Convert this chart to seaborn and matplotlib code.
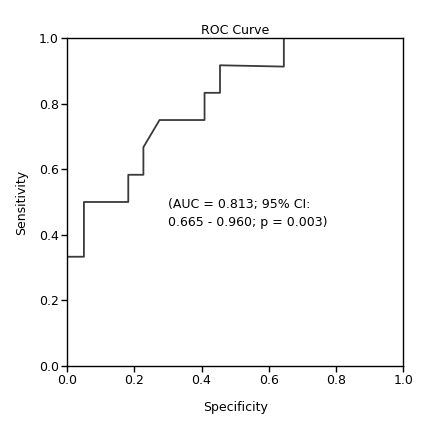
import numpy as np
import pandas as pd
import matplotlib
matplotlib.use('Agg')
import matplotlib.pyplot as plt
import seaborn as sns

# ROC curve corner points
specificity = [0.0, 0.05, 0.05, 0.182, 0.182, 0.227, 0.227, 0.275, 0.409, 0.409,
               0.455, 0.455, 0.645, 0.645, 1.0]
sensitivity = [0.333, 0.333, 0.5, 0.5, 0.583, 0.583, 0.667, 0.75, 0.75, 0.833,
               0.833, 0.917, 0.913, 1.0, 1.0]
ticks = [0.0, 0.2, 0.4, 0.6, 0.8, 1.0]
note = '(AUC = 0.813; 95% CI:\n0.665 - 0.960; p = 0.003)'

df = pd.DataFrame({'Specificity': specificity, 'Sensitivity': sensitivity})

sns.set_style('ticks')
plt.rcParams['font.family'] = ['DejaVu Sans']
plt.rcParams['text.color'] = 'black'
plt.rcParams['axes.labelcolor'] = 'black'

fig = plt.figure(figsize=(4.33, 4.23), dpi=100)
ax = fig.add_axes([0.155, 0.135, 0.776, 0.775])

sns.lineplot(data=df, x='Specificity', y='Sensitivity', sort=False, estimator=None,
             color='#3a3a3a', linewidth=1.3, ax=ax)

ax.set_xlim(0, 1)
ax.set_ylim(0, 1)
ax.set_xticks(ticks)
ax.set_yticks(ticks)
ax.set_xticklabels(['{:.1f}'.format(t) for t in ticks], fontsize=9)
ax.set_yticklabels(['{:.1f}'.format(t) for t in ticks], fontsize=9)
ax.tick_params(direction='out', length=4, width=1, colors='black', pad=2)
for s in ax.spines.values():
    s.set_visible(True)
    s.set_color('black')
    s.set_linewidth(1)

ax.set_title('ROC Curve', fontsize=9, pad=3, color='black')
ax.set_xlabel('Specificity', fontsize=9, labelpad=10)
ax.set_ylabel('Sensitivity', fontsize=9, labelpad=8)

ax.text(0.30, 0.465, note, fontsize=9, ha='left', va='center', linespacing=1.5,
        color='black')

fig.savefig('out.png', dpi=100)
